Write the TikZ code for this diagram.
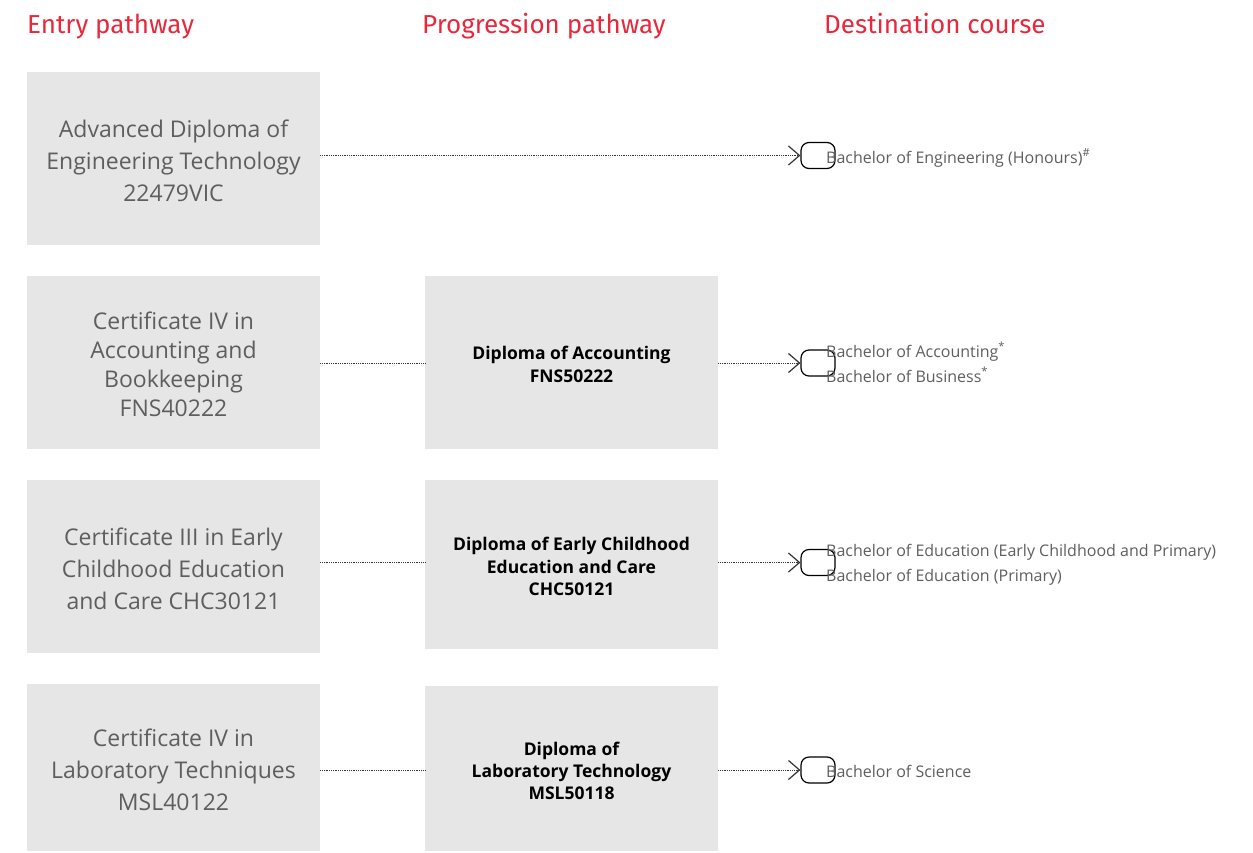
\documentclass[tikz,border=0pt]{standalone}
\usepackage{fontspec}
\setmainfont{Open Sans}
\newfontfamily\headfont{Fira Sans}
\usetikzlibrary{arrows.meta}
\definecolor{boxgrey}{HTML}{E6E6E6}
\definecolor{txtgrey}{HTML}{5E5E5E}
\definecolor{headred}{HTML}{E8283C}
\tikzset{
  panel/.style={fill=boxgrey, draw=none, minimum width=293pt, minimum height=173pt, inner sep=0pt},
  entrytext/.style={align=center, text=txtgrey, font=\fontsize{23}{32}\selectfont, inner sep=0pt, yshift=-2pt},
  progtext/.style={align=center, text=black, font=\fontsize{17.5}{22.5}\selectfont\bfseries, inner sep=0pt, yshift=-2pt},
  heading/.style={anchor=base west, text=headred, font=\headfont\fontsize{26}{30}\selectfont, inner sep=0pt},
  terminal/.style={draw=black, line width=1.2pt, rounded corners=8pt, minimum width=34pt, minimum height=26pt, inner sep=0pt},
  dest/.style={anchor=base west, align=left, text=txtgrey, font=\fontsize{16}{25}\selectfont, inner sep=0pt},
  link/.style={densely dotted, line width=0.8pt, draw=black!80},
  tolink/.style={link, -{Straight Barb[length=11pt,width=19pt,line width=1.2pt]}, shorten >=0pt}
}
\begin{document}
\begin{tikzpicture}[x=1pt,y=-1pt]
\useasboundingbox (0,0) rectangle (1253,852);
% headings
\node[heading] (h1) at (27,33) {Entry pathway};
\node[heading] (h2) at (422,33) {Progression pathway};
\node[heading] (h3) at (824,33) {Destination course};
% entry boxes
\node[panel, label={[entrytext]center:Advanced Diploma of\\Engineering Technology\\22479VIC}] (L1) at (173.5,158.5) {};
\node[panel, label={[entrytext, font=\fontsize{23}{29}\selectfont]center:Certificate IV in\\Accounting and\\Bookkeeping\\FNS40222}] (L2) at (173.5,362.5) {};
\node[panel, label={[entrytext]center:Certificate III in Early\\Childhood Education\\and Care CHC30121}] (L3) at (173.5,566.5) {};
\node[panel, minimum height=167pt, label={[entrytext]center:Certificate IV in\\Laboratory Techniques\\MSL40122}] (L4) at (173.5,767.5) {};
% progression boxes
\node[panel, label={[progtext]center:Diploma of Accounting\\FNS50222}] (M2) at (571.5,362.5) {};
\node[panel, minimum height=169pt, label={[progtext]center:Diploma of Early Childhood\\Education and Care\\CHC50121}] (M3) at (571.5,564.5) {};
\node[panel, minimum height=165pt, label={[progtext, font=\fontsize{17.5}{22}\selectfont\bfseries]center:Diploma of\\Laboratory Technology\\MSL50118}] (M4) at (571.5,768.5) {};
% terminals
\node[terminal] (T1) at (818,155.5) {};
\node[terminal] (T2) at (818,363) {};
\node[terminal] (T3) at (818,562.5) {};
\node[terminal] (T4) at (818,770) {};
% connectors
\draw[tolink] (L1.east |- T1.west) -- (T1.west);
\draw[link] (L2.east |- T2.west) -- (M2.west |- T2.west);
\draw[tolink] (M2.east |- T2.west) -- (T2.west);
\draw[link] (L3.east |- T3.west) -- (M3.west |- T3.west);
\draw[tolink] (M3.east |- T3.west) -- (T3.west);
\draw[link] (L4.east |- T4.west) -- (M4.west |- T4.west);
\draw[tolink] (M4.east |- T4.west) -- (T4.west);
% destinations
\node[dest] (D1) at (826,163) {Bachelor of Engineering (Honours)\textsuperscript{\#}};
\node[dest] (D2) at (826,382) {Bachelor of Accounting\textsuperscript{*}\\Bachelor of Business\textsuperscript{*}};
\node[dest] (D3) at (826,581) {Bachelor of Education (Early Childhood and Primary)\\Bachelor of Education (Primary)};
\node[dest] (D4) at (826,777) {Bachelor of Science};
\end{tikzpicture}
\end{document}
